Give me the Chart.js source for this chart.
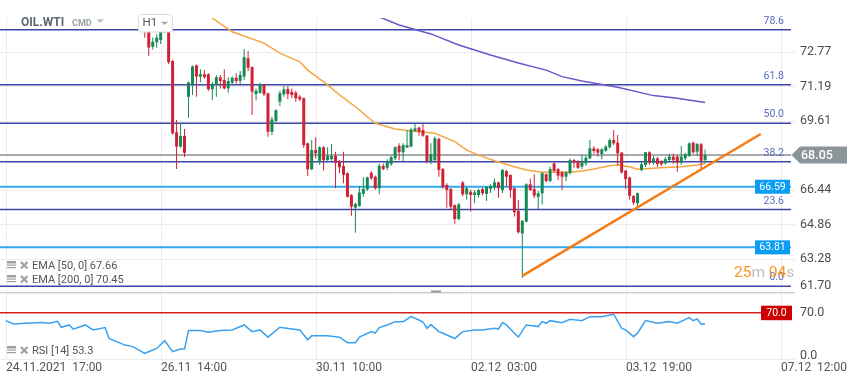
<!DOCTYPE html>
<html><head><meta charset="utf-8">
<script src="https://cdn.jsdelivr.net/npm/chart.js@4.4.1/dist/chart.umd.min.js"></script>
<style>html,body{margin:0;padding:0;background:#fff;}#wrap{width:859px;height:385px;}</style>
</head><body><div id="wrap"><canvas id="c" width="859" height="385"></canvas></div>
<script>
// ---------- data ----------
const firstIndex = 35;
const opens  = [74.6,73.9,73.01,73.22,73.32,73.72,74.2,72.36,69.09,68.43,68.92,70.72,71.29,72.16,71.64,71.75,71.75,71.06,71.26,71.61,71.49,71.10,71.36,71.59,71.45,71.64,72.48,72.08,70.84,70.90,71.26,70.88,69.11,69.61,70.49,70.83,71.07,70.94,70.90,70.72,70.65,68.58,67.39,68.27,67.78,68.40,67.81,67.85,68.00,67.78,67.54,67.21,66.21,65.63,65.71,66.26,66.47,67.23,67.05,66.52,67.55,67.46,67.63,67.89,68.46,68.17,68.38,68.43,69.15,69.30,69.19,68.93,67.77,67.81,68.78,67.40,66.67,66.49,65.75,65.11,66.78,66.24,66.36,66.21,66.21,66.49,66.26,66.49,66.55,66.79,66.44,67.31,67.13,66.52,65.48,64.45,64.99,66.70,66.49,66.13,66.29,67.16,66.85,67.66,67.40,67.25,67.05,67.21,67.81,67.74,67.51,67.66,67.89,68.35,68.31,68.09,68.24,68.40,68.73,68.61,68.15,67.33,67.01,66.17,65.83,67.36,67.59,68.17,67.69,67.89,67.74,67.66,67.81,67.97,67.97,67.69,67.89,68.00,68.61,68.20,68.54,67.81];
const highs  = [74.8,74.0,73.43,73.58,74.1,74.5,74.4,72.4,69.65,69.48,69.24,71.40,72.15,72.2,71.98,71.95,71.8,71.41,71.72,71.72,71.98,71.61,71.65,71.79,71.9,72.91,72.82,72.1,71.10,71.36,71.3,70.9,69.80,70.15,70.99,71.21,71.21,71.1,70.99,70.8,70.68,68.61,68.73,68.86,68.45,68.45,68.40,68.55,68.2,67.81,68.20,67.25,66.25,65.86,66.62,67.02,67.05,67.3,67.1,67.66,67.66,67.85,68.0,68.45,68.58,68.58,69.19,69.3,69.47,69.34,69.47,68.96,68.58,68.90,68.84,67.45,66.75,66.52,65.78,65.85,66.85,66.6,66.45,66.44,66.5,66.55,66.62,66.7,66.97,66.82,67.4,67.36,67.15,66.55,65.98,65.06,66.75,66.97,67.16,66.39,67.25,67.2,67.51,67.7,67.45,67.31,67.3,67.9,67.86,67.8,68.04,68.05,68.73,68.45,68.35,68.35,68.5,68.8,69.19,68.96,68.2,67.36,67.05,66.2,66.32,67.7,68.2,68.22,68.0,67.95,67.8,67.95,68.1,68.1,68.05,68.46,68.15,68.62,68.65,68.6,68.6,68.3];
const lows   = [73.42,72.6,72.89,72.97,73.14,73.65,72.21,68.98,67.40,68.38,67.95,69.76,70.80,70.72,71.38,71.55,70.98,70.57,70.72,71.1,71.05,70.90,71.25,71.33,71.3,71.49,71.90,69.88,70.54,70.85,70.75,68.88,68.96,69.55,70.29,70.72,70.60,70.66,70.49,70.52,68.37,67.08,67.35,67.89,67.6,67.33,67.78,67.78,66.52,67.21,66.75,66.10,65.26,64.48,65.67,66.13,66.4,66.9,66.45,66.24,67.35,67.35,67.55,67.8,67.81,67.77,68.38,68.4,69.11,68.93,68.88,67.66,67.62,67.7,67.05,66.5,65.63,65.55,64.89,65.05,66.15,66.0,65.45,65.83,66.1,66.2,65.94,66.3,66.44,66.09,66.3,66.59,66.09,65.22,64.45,62.42,64.95,66.4,66.06,65.57,65.78,66.8,66.8,67.25,66.90,66.44,66.85,67.15,67.46,67.4,67.4,67.55,67.85,68.1,67.97,67.85,68.2,68.35,68.50,67.59,67.2,66.49,66.0,65.75,65.65,67.3,67.5,67.6,67.6,67.5,67.55,67.6,67.7,67.65,67.28,67.6,67.8,67.95,68.1,68.0,67.36,67.66];
const closes = [74.0,72.97,73.24,73.43,73.9,74.3,72.30,69.04,68.43,68.92,68.15,71.38,72.11,71.64,71.76,71.61,71.06,71.29,71.61,71.44,71.10,71.44,71.59,71.44,71.72,72.53,72.05,70.95,70.99,71.30,70.83,69.11,69.68,70.10,70.88,71.06,70.84,70.80,70.65,70.60,68.50,67.39,68.27,68.12,68.40,67.81,68.00,68.00,67.69,67.48,67.13,66.13,65.67,65.80,66.33,66.49,67.02,66.98,66.52,67.55,67.40,67.74,67.94,68.40,68.17,68.50,68.50,69.22,69.27,69.11,68.93,67.77,68.08,68.81,67.36,66.59,66.44,65.67,65.11,65.78,66.24,66.52,66.21,66.33,66.44,66.29,66.59,66.62,66.79,66.52,67.36,67.05,66.44,65.42,64.50,65.02,66.70,66.44,66.18,66.29,67.21,66.85,67.40,67.31,67.10,67.05,67.25,67.81,67.69,67.46,67.74,67.92,68.35,68.23,68.15,68.31,68.43,68.73,68.58,68.12,67.25,66.94,66.17,65.86,66.29,67.62,68.17,67.69,67.89,67.63,67.62,67.86,67.97,67.81,67.69,67.97,68.08,68.58,68.17,68.55,67.78,68.05];

const ema50 = [[50,74.60],[52,74.32],[57,73.70],[65,73.18],[69,72.72],[74,72.32],[76,71.94],[81,71.26],[84,70.80],[88,70.26],[91,69.80],[93,69.50],[98,69.24],[102,69.15],[108,69.04],[113,68.66],[116,68.27],[120,67.97],[123,67.78],[128,67.51],[131,67.36],[135,67.25],[142,67.25],[145,67.31],[148,67.40],[152,67.55],[154,67.59],[157,67.51],[159,67.39],[162,67.43],[166,67.47],[170,67.51],[174,67.59],[176,67.66]];
const ema200 = [[93,74.45],[94,74.38],[99,74.01],[107,73.60],[114,73.09],[122,72.63],[129,72.27],[136,71.94],[140,71.64],[145,71.44],[154,71.15],[163,70.77],[169,70.65],[176,70.45]];
const rsi = [[0,58],[2,53],[5,54],[9,55],[11,54],[13,57],[14,48],[16,51.5],[17,45],[20,51.5],[22,44],[25,47.5],[26,31],[30,21],[32,18.7],[35,8.6],[38,16],[40,27.7],[42,11],[44,15],[45,15],[46,43],[49,43],[51,40.5],[54,43],[57,44],[60,51.5],[62,41.4],[64,44],[66,33],[69,48],[72,45.5],[74,44],[76,29],[77,35],[81,35.3],[84,33],[86,24.7],[88,24.7],[89,33],[92,41.4],[93,39],[94,47.5],[96,51.5],[98,56.5],[100,56.5],[102,64],[104,59],[105,56],[106,46.5],[107,52],[109,41.4],[110,39],[113,31],[115,41.4],[118,44],[120,44],[123,46.5],[124,45],[125,55],[126,51.5],[129,33],[131,51.5],[134,49],[135,56.5],[136,54],[137,58],[140,55],[142,60],[145,58],[147,64],[150,64],[153,67.7],[155,46.5],[156,44],[158,33.8],[159,39],[161,58],[164,54],[167,56.5],[169,54],[172,62.6],[173,58],[174,60.6],[175,52.6],[176,53.3]];

const priceTicks = [72.77,71.19,69.61,68.03,66.44,64.86,63.28,61.70];
const rsiTicks = [70,0];
const fibLevels = ['78.6','61.8','50.0','38.2','23.6','0.0'];
const fibPrices = [73.79,71.27,69.50,67.74,65.55,62.02];
const markedPrices = [66.59,63.81];
const currentPrice = 68.05;
const rsiLevel = 70;
const trendLine = [[130,62.50],[190,69.01]];
const timeTicks = [0,39,78,117,156,195];
const timeLabels = ['24.11.2021  17:00','26.11  14:00','30.11  10:00','02.12  03:00','03.12  19:00','07.12  12:00'];

// ---------- layout ----------
const X_MIN = -1.434, X_MAX = 198.62, LINE_END = 197.6;
const GREEN = '#168a55', RED = '#cf2236';
const FONT = 'Roboto, "Open Sans", sans-serif';

const up = opens.map((o,k)=>closes[k] >= o);
const candleColors = up.map(u => u ? GREEN : RED);
const bodies = opens.map((o,k)=>({x:firstIndex+k, y:[o, closes[k]]}));
const wicks = lows.map((l,k)=>({x:firstIndex+k, y:[l, highs[k]]}));
const pts = arr => arr.map(p=>({x:p[0], y:p[1]}));
const hline = v => [{x:X_MIN, y:v},{x:LINE_END, y:v}];

const lineBase = {type:'line', pointRadius:0, tension:0, fill:false};
const datasets = [
  Object.assign({}, lineBase, {data:pts(rsi), yAxisID:'yr', borderColor:'#3ba1ee', borderWidth:1.5, order:1}),
  Object.assign({}, lineBase, {data:pts(trendLine), yAxisID:'y', borderColor:'#f47c16', borderWidth:2.5, order:2}),
  Object.assign({}, lineBase, {data:pts(ema200), yAxisID:'y', borderColor:'#6e55c8', borderWidth:1.5, order:3}),
  {type:'bar', data:bodies, yAxisID:'y', backgroundColor:candleColors, barThickness:3, grouped:false, minBarLength:1, borderWidth:0, inflateAmount:0, order:4},
  {type:'bar', data:wicks, yAxisID:'y', backgroundColor:candleColors, barThickness:1, grouped:false, minBarLength:1, borderWidth:0, inflateAmount:0, order:5},
  Object.assign({}, lineBase, {data:pts(ema50), yAxisID:'y', borderColor:'#f7a541', borderWidth:1.5, order:6}),
  Object.assign({}, lineBase, {data:hline(currentPrice), yAxisID:'y', borderColor:'#8c9196', borderWidth:1.5, order:7}),
  Object.assign({}, lineBase, {data:hline(rsiLevel), yAxisID:'yr', borderColor:'#d42020', borderWidth:1.5, order:7})
];
fibPrices.forEach(p=>datasets.push(Object.assign({}, lineBase, {data:hline(p), yAxisID:'y', borderColor:'#3848a8', borderWidth:1.5, order:8})));
markedPrices.forEach(p=>datasets.push(Object.assign({}, lineBase, {data:hline(p), yAxisID:'y', borderColor:'#33aaf0', borderWidth:2, order:9})));

function seg(ctx,x1,y1,x2,y2){ctx.beginPath();ctx.moveTo(x1,y1);ctx.lineTo(x2,y2);ctx.stroke();}

const overlay = {
  id:'overlay',
  beforeDatasetsDraw(chart){
    const {ctx, chartArea:a, scales:{x,y,yr}} = chart;
    ctx.save();
    ctx.lineWidth = 1; ctx.strokeStyle = '#ececec';
    priceTicks.forEach(v=>{const py=Math.round(y.getPixelForValue(v))+0.5; seg(ctx,0,py,a.right,py);});
    timeTicks.forEach(t=>{const px=Math.round(x.getPixelForValue(t))+0.5; seg(ctx,px,a.top,px,a.bottom+1);});
    const rb = Math.round(yr.getPixelForValue(0))+0.5; seg(ctx,0,rb,a.right,rb);
    ctx.strokeStyle = '#cdcdcd';
    const sp = Math.round(yr.getPixelForValue(100))-0.5; seg(ctx,0,sp,a.right,sp);
    ctx.restore();
  },
  afterDraw(chart){
    const {ctx, chartArea:a, scales:{x,y,yr}} = chart;
    ctx.save();
    ctx.textBaseline = 'middle';
    // fib labels
    ctx.font = '10.5px '+FONT; ctx.fillStyle = '#5c6bc0'; ctx.textAlign = 'right';
    fibPrices.forEach((p,k)=>ctx.fillText(fibLevels[k], 784, y.getPixelForValue(p)-8.5));
    // right axis labels
    ctx.font = '12.5px '+FONT; ctx.fillStyle = '#4d4d4d'; ctx.textAlign = 'left';
    priceTicks.forEach(v=>{ let py = y.getPixelForValue(v); if (py > 286) py = 286; ctx.fillText(v.toFixed(2), 800, py); });
    rsiTicks.forEach(v=>{ let py = yr.getPixelForValue(v); if (py > 355.5) py = 355.5; ctx.fillText(v.toFixed(1), 800, py); });
    // marked level boxes
    ctx.font = '10.5px '+FONT; ctx.textAlign = 'center';
    markedPrices.forEach(p=>{ const py=y.getPixelForValue(p); ctx.fillStyle='#0a9df3'; ctx.fillRect(755, py-7, 35, 14); ctx.fillStyle='#fff'; ctx.fillText(p.toFixed(2), 772.5, py+0.5); });
    { const py = yr.getPixelForValue(rsiLevel); ctx.fillStyle='#cc0000'; ctx.fillRect(761, py-7, 31, 14.5); ctx.fillStyle='#fff'; ctx.fillText(rsiLevel.toFixed(1), 776.5, py+0.5); }
    // current price tag
    { const py = y.getPixelForValue(currentPrice);
      ctx.fillStyle = '#8b9499'; ctx.beginPath(); ctx.moveTo(791.5,py); ctx.lineTo(800,py-8.5); ctx.lineTo(847,py-8.5); ctx.lineTo(847,py+8.5); ctx.lineTo(800,py+8.5); ctx.closePath(); ctx.fill();
      ctx.fillStyle = '#fff'; ctx.font = '500 12.5px '+FONT; ctx.textAlign='left'; ctx.fillText(currentPrice.toFixed(2), 801, py+0.5); }
    // x labels
    ctx.font = '12px '+FONT; ctx.fillStyle = '#555'; ctx.textAlign = 'left';
    timeTicks.forEach((t,k)=>ctx.fillText(timeLabels[k], Math.round(x.getPixelForValue(t)), 368));
    // legend rows
    const rows = [['EMA [50, 0] 67.66',266.5],['EMA [200, 0] 70.45',280.5],['RSI [14] 53.3',351.5]];
    rows.forEach(r=>{
      const cy = r[1];
      ctx.fillStyle = '#a0a0a0';
      ctx.fillRect(7, cy-5.5, 9, 2.5); ctx.fillRect(7, cy-2, 9, 1.2); ctx.fillRect(7, cy+0.5, 9, 1.2);
      ctx.strokeStyle = '#a0a0a0'; ctx.lineWidth = 2.2;
      seg(ctx,21,cy-4.5,27.5,cy+2); seg(ctx,27.5,cy-4.5,21,cy+2);
      ctx.fillStyle = '#555'; ctx.font = '11px '+FONT; ctx.textAlign='left';
      ctx.fillText(r[0], 32, cy);
    });
    // title
    ctx.fillStyle = '#5d6770'; ctx.font = 'bold 12px '+FONT; ctx.fillText('OIL.WTI', 21, 22.8);
    ctx.fillStyle = '#9aa4ab'; ctx.font = 'bold 9px '+FONT; ctx.fillText('CMD', 72, 23.5);
    ctx.fillStyle = '#b8bec3'; ctx.beginPath(); ctx.moveTo(96.5,19.2); ctx.lineTo(104,19.2); ctx.lineTo(100.25,22.8); ctx.closePath(); ctx.fill();
    // H1 box
    ctx.fillStyle = '#fff'; ctx.strokeStyle = '#dcdcdc'; ctx.lineWidth = 1;
    ctx.beginPath(); ctx.roundRect(138.5, 14.5, 34, 17.5, 3); ctx.fill(); ctx.stroke();
    ctx.fillStyle = '#555'; ctx.font = '11.5px '+FONT; ctx.fillText('H1', 142.5, 23);
    ctx.fillStyle = '#aaa'; ctx.beginPath(); ctx.moveTo(161,21.7); ctx.lineTo(168,21.7); ctx.lineTo(164.5,25); ctx.closePath(); ctx.fill();
    // timer
    ctx.textBaseline = 'alphabetic'; ctx.font = '15.5px '+FONT;
    let tx = 734;
    [['25','#f7941d'],['m ','#bdbdbd'],['04','#f7941d'],['s','#bdbdbd']].forEach(s=>{ ctx.fillStyle=s[1]; ctx.fillText(s[0], tx, 277); tx += ctx.measureText(s[0]).width; });
    // panel handle
    ctx.fillStyle = '#9a9a9a'; ctx.fillRect(431, 290.5, 10, 2);
    ctx.restore();
  }
};

new Chart(document.getElementById('c'), {
  type:'line',
  data:{datasets},
  options:{
    responsive:false, animation:false, devicePixelRatio:1, events:[],
    layout:{padding:{left:0, right:64, top:18, bottom:26}},
    plugins:{legend:{display:false}, tooltip:{enabled:false}},
    scales:{
      x:{type:'linear', min:X_MIN, max:X_MAX, offset:false, display:false},
      y:{type:'linear', min:58.688, max:74.33, display:false},
      yr:{type:'linear', min:0, max:515.6, display:false}
    }
  },
  plugins:[overlay]
});
</script></body></html>
